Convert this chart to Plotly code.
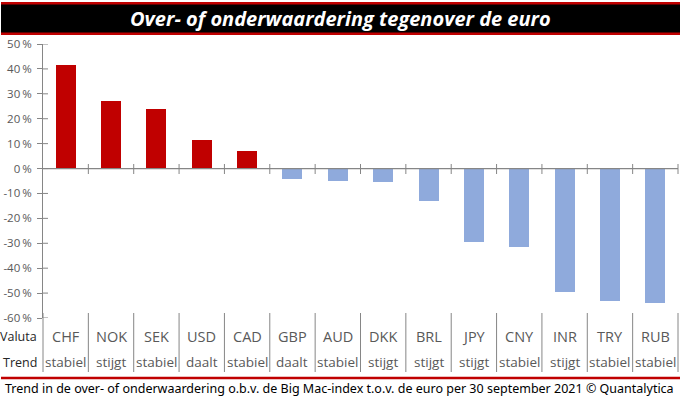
import plotly.graph_objects as go

currencies = ["CHF", "NOK", "SEK", "USD", "CAD", "GBP", "AUD", "DKK", "BRL", "JPY", "CNY", "INR", "TRY", "RUB"]
valuation = [41.7, 27.3, 24.1, 11.3, 6.9, -4.0, -4.8, -5.3, -13.0, -29.6, -31.4, -49.4, -53.0, -54.0]
trends = ["stabiel", "stijgt", "stabiel", "daalt", "stabiel", "daalt", "stabiel", "stijgt", "stijgt", "stijgt", "stabiel", "stijgt", "stabiel", "stabiel"]
tick_vals = [50, 40, 30, 20, 10, 0, -10, -20, -30, -40, -50, -60]
tick_text = [f"{v}\u2009%" for v in tick_vals]

title_text = "Over- of onderwaardering tegenover de euro"
footer_text = "Trend in de over- of onderwaardering o.b.v. de Big Mac-index t.o.v. de euro per 30 september 2021 © Quantalytica"

W, H = 681, 399
L, R, T, B = 43, 3, 44, 81
PW, PH = W - L - R, H - T - B

def px(x):
    return (x - L) / PW

def py(y):
    return (H - B - y) / PH

RED = "#C00000"
BLUE = "#8FAADC"
AX = "#868686"
TXT = "#595959"

colors = [RED if v >= 0 else BLUE for v in valuation]
n = len(currencies)

fig = go.Figure(go.Bar(
    x=list(range(n)), y=valuation, marker=dict(color=colors, line=dict(width=0)),
    width=0.44, hoverinfo="skip",
))

shapes = []
annotations = []

# Title band
shapes.append(dict(type="rect", xref="paper", yref="paper", x0=px(1), x1=px(680), y0=py(35), y1=py(2),
                   fillcolor=RED, line=dict(width=0), layer="above"))
shapes.append(dict(type="rect", xref="paper", yref="paper", x0=px(1), x1=px(680), y0=py(32.5), y1=py(4.5),
                   fillcolor="black", line=dict(width=0), layer="above"))
annotations.append(dict(text=f"<b><i>{title_text}</i></b>", xref="paper", yref="paper", x=px(340), y=py(18.5),
                        xanchor="center", yanchor="middle", showarrow=False,
                        font=dict(family="Open Sans", size=20, color="white")))

# zero line
shapes.append(dict(type="line", xref="paper", yref="y", x0=0, x1=1, y0=0, y1=0, line=dict(color=AX, width=1.3)))
# y tick inner parts
for v in tick_vals:
    shapes.append(dict(type="line", xref="paper", yref="y", x0=px(43), x1=px(48), y0=v, y1=v,
                       line=dict(color=AX, width=1)))
# category boundary ticks on zero line and table dividers
for k in range(1, n + 1):
    xp = k / n
    shapes.append(dict(type="line", xref="paper", yref="paper", x0=xp, x1=xp, y0=py(174), y1=py(164),
                       line=dict(color=AX, width=1)))
for k in range(0, n + 1):
    xp = k / n
    shapes.append(dict(type="line", xref="paper", yref="paper", x0=xp, x1=xp, y0=py(372), y1=py(313),
                       line=dict(color=AX, width=1)))

# bottom red line
shapes.append(dict(type="line", xref="paper", yref="paper", x0=px(1), x1=px(680), y0=py(378), y1=py(378),
                   line=dict(color=RED, width=2.5)))

# table texts
for i, (c, t) in enumerate(zip(currencies, trends)):
    annotations.append(dict(text=c, xref="x", yref="paper", x=i, y=py(336), xanchor="center", yanchor="middle",
                            showarrow=False, font=dict(family="Open Sans", size=14.5, color=TXT)))
    annotations.append(dict(text=t, xref="x", yref="paper", x=i, y=py(362), xanchor="center", yanchor="middle",
                            showarrow=False, font=dict(family="Open Sans", size=13.5, color=TXT)))
annotations.append(dict(text="Valuta", xref="paper", yref="paper", x=px(39), y=py(336), xanchor="right",
                        yanchor="middle", showarrow=False, font=dict(family="Open Sans", size=12.5, color="#262626")))
annotations.append(dict(text="Trend", xref="paper", yref="paper", x=px(39), y=py(362), xanchor="right",
                        yanchor="middle", showarrow=False, font=dict(family="Open Sans", size=12.5, color="#262626")))
annotations.append(dict(text=footer_text, xref="paper", yref="paper", x=px(3), y=py(388), xanchor="left",
                        yanchor="middle", showarrow=False, font=dict(family="Noto Sans", size=12.5, color="black")))

fig.update_layout(
    width=W, height=H, margin=dict(l=L, r=R, t=T, b=B, pad=0),
    plot_bgcolor="white", paper_bgcolor="white", showlegend=False,
    bargap=0,
    xaxis=dict(range=[-0.5, n - 0.5], showticklabels=False, showgrid=False, zeroline=False, ticks="",
               showline=False, fixedrange=True),
    yaxis=dict(range=[-60, 50], tickvals=tick_vals, ticktext=tick_text, showgrid=False, zeroline=False,
               showline=True, linecolor=AX, linewidth=1, ticks="outside", ticklen=5, tickcolor=AX,
               tickfont=dict(family="Open Sans", size=11.5, color=TXT), ticklabelstandoff=3, fixedrange=True),
    shapes=shapes, annotations=annotations,
)

fig.write_html("out.html", config={"displayModeBar": False, "staticPlot": True},
               post_script="document.body.style.margin='0';document.body.style.overflow='hidden';")
